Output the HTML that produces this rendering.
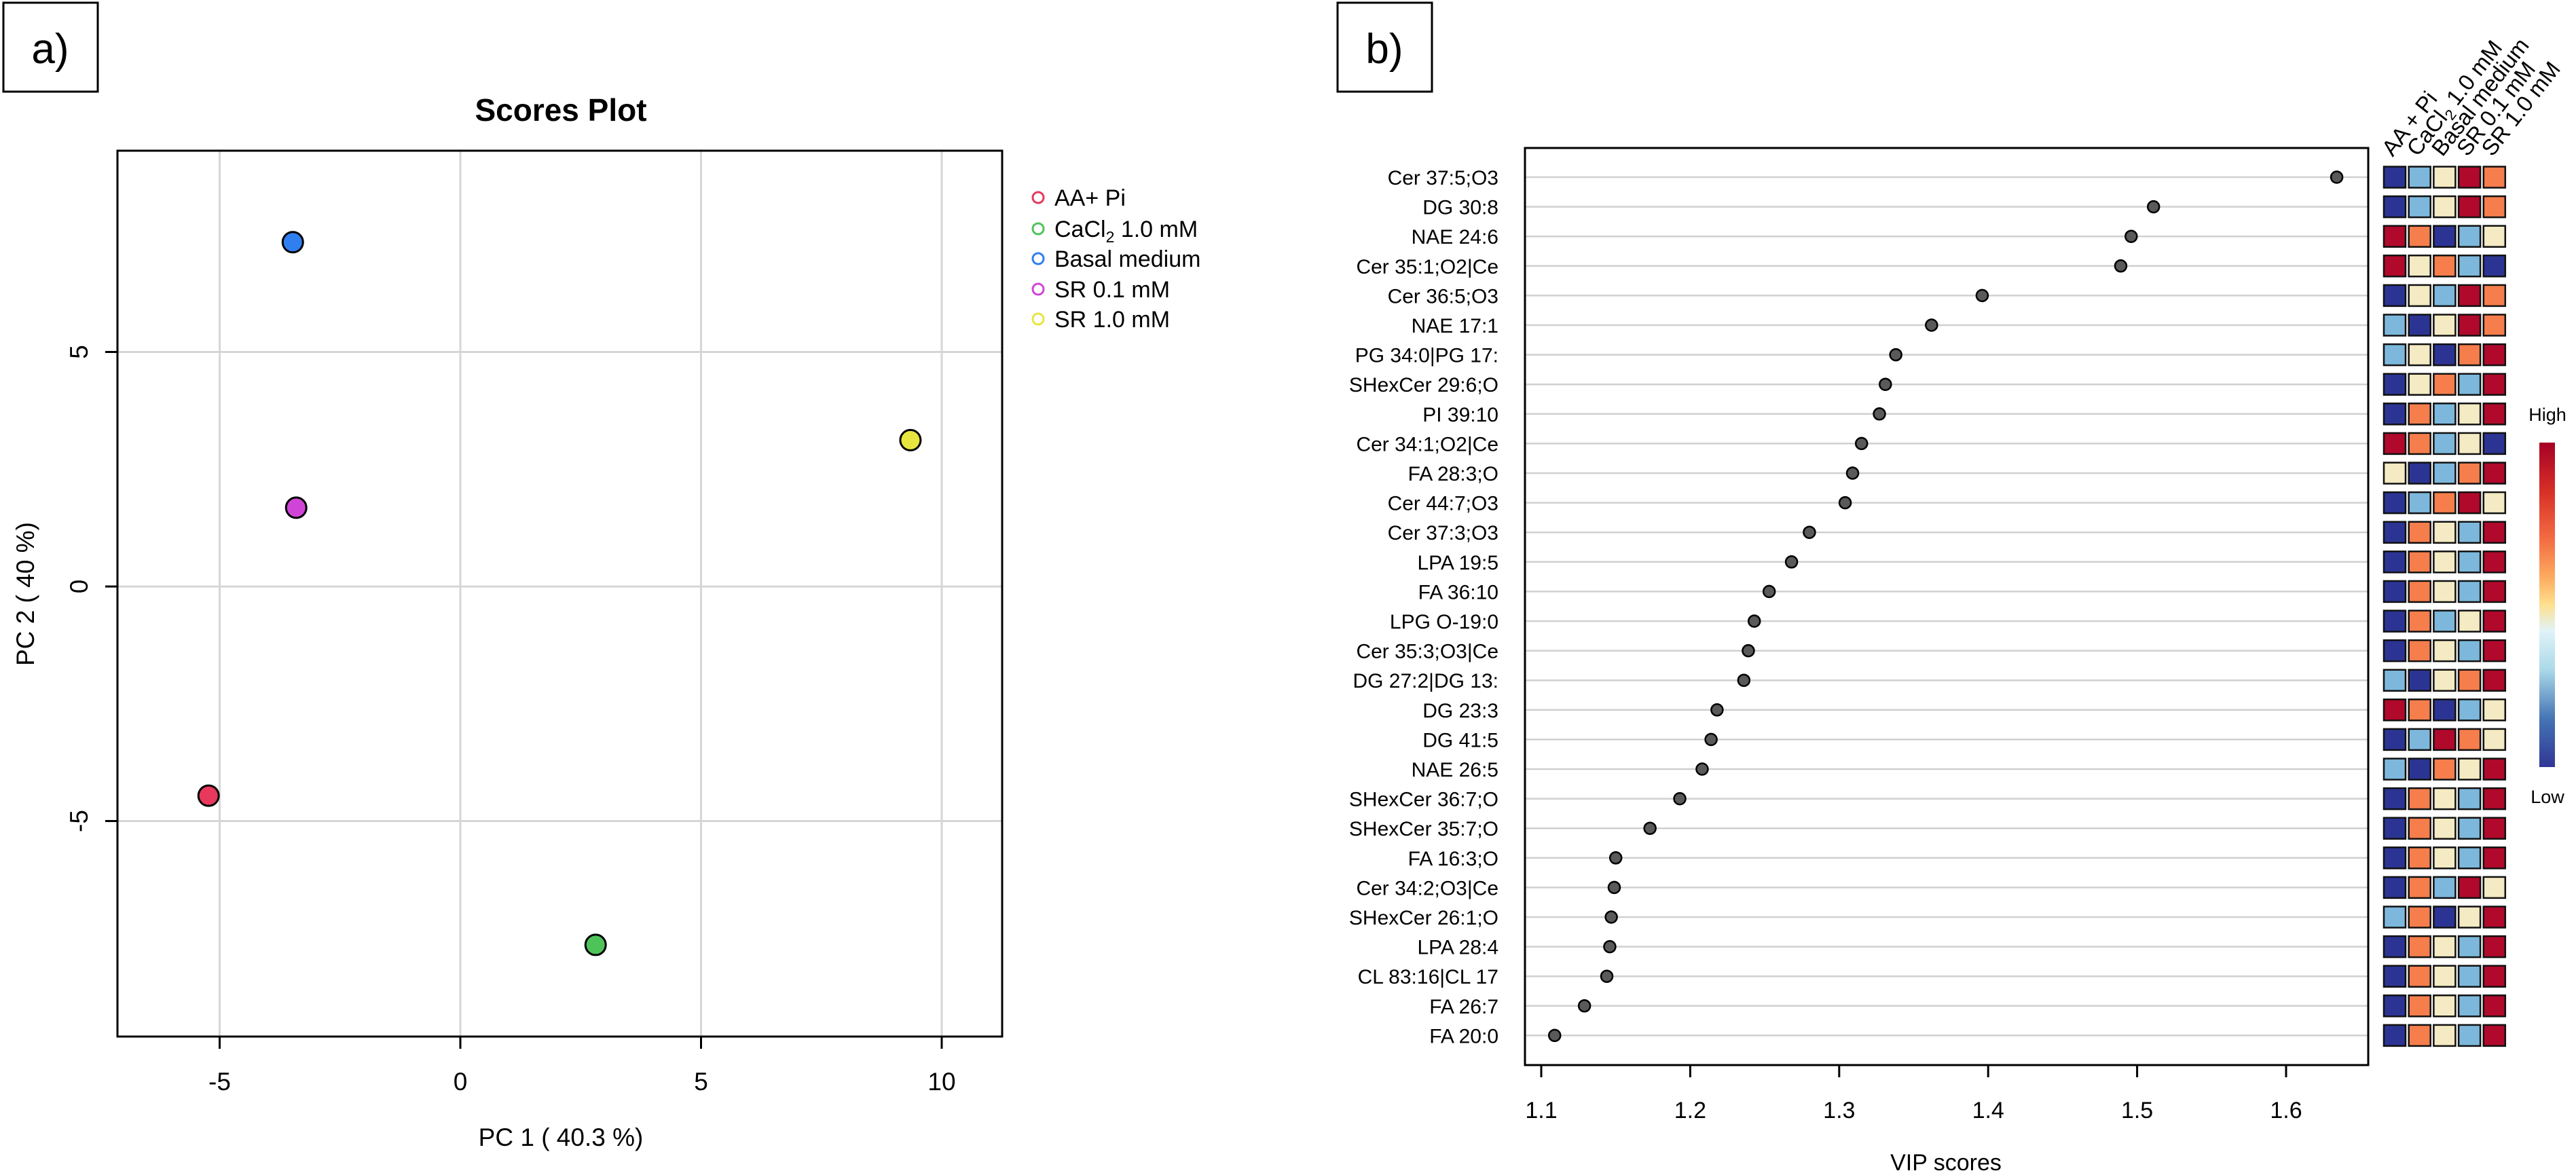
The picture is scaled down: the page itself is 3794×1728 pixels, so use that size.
<!DOCTYPE html>
<html><head><meta charset="utf-8"><style>
html,body{margin:0;padding:0;background:#fff;}
svg{display:block;font-family:"Liberation Sans",sans-serif;}
</style></head><body>
<svg id="fig" width="3794" height="1728" viewBox="0 0 3794 1728" xmlns="http://www.w3.org/2000/svg">
<rect x="0" y="0" width="3794" height="1728" fill="#fff"/>
<g>
<rect x="5" y="4" width="139" height="131" fill="none" stroke="#000" stroke-width="3"/>
<text x="74" y="93" font-size="62" text-anchor="middle">a)</text>
</g>
<g>
<rect x="1970" y="4" width="139" height="131" fill="none" stroke="#000" stroke-width="3"/>
<text x="2039" y="93" font-size="62" text-anchor="middle">b)</text>
</g>
<g id="pca"></g>
<g id="vip"></g>
</svg>
<script>
// ---- Scores plot data ----
const groups = ["AA+ Pi","CaCl2 1.0 mM","Basal medium","SR 0.1 mM","SR 1.0 mM"];
const groupColors = ["#e8385c","#4ec35a","#2f7ff0","#d045d8","#e8e540"];
const pc1 = [-5.23, 2.81, -3.48, -3.41, 9.35];
const pc2 = [-4.46, -7.64, 7.34, 1.68, 3.12];
const xTicks = [-5, 0, 5, 10];
const yTicks = [-5, 0, 5];

// ---- VIP data ----
const features = ["Cer 37:5;O3","DG 30:8","NAE 24:6","Cer 35:1;O2|Ce","Cer 36:5;O3","NAE 17:1","PG 34:0|PG 17:","SHexCer 29:6;O","PI 39:10","Cer 34:1;O2|Ce","FA 28:3;O","Cer 44:7;O3","Cer 37:3;O3","LPA 19:5","FA 36:10","LPG O-19:0","Cer 35:3;O3|Ce","DG 27:2|DG 13:","DG 23:3","DG 41:5","NAE 26:5","SHexCer 36:7;O","SHexCer 35:7;O","FA 16:3;O","Cer 34:2;O3|Ce","SHexCer 26:1;O","LPA 28:4","CL 83:16|CL 17","FA 26:7","FA 20:0"];
const vipScores = [1.634,1.511,1.496,1.489,1.396,1.362,1.338,1.331,1.327,1.315,1.309,1.304,1.280,1.268,1.253,1.243,1.239,1.236,1.218,1.214,1.208,1.193,1.173,1.150,1.149,1.147,1.146,1.144,1.129,1.109];
const vipTicks = [1.1,1.2,1.3,1.4,1.5,1.6];
const heatCols = ["AA + Pi","CaCl2 1.0 mM","Basal medium","SR 0.1 mM","SR 1.0 mM"];
// levels: 0 low(dark blue), 1 light blue, 2 cream, 3 orange, 4 high(dark red)
const heatLevels = [
[0,1,2,4,3],[0,1,2,4,3],[4,3,0,1,2],[4,2,3,1,0],[0,2,1,4,3],
[1,0,2,4,3],[1,2,0,3,4],[0,2,3,1,4],[0,3,1,2,4],[4,3,1,2,0],
[2,0,1,3,4],[0,1,3,4,2],[0,3,2,1,4],[0,3,2,1,4],[0,3,2,1,4],
[0,3,1,2,4],[0,3,2,1,4],[1,0,2,3,4],[4,3,0,1,2],[0,1,4,3,2],
[1,0,3,2,4],[0,3,2,1,4],[0,3,2,1,4],[0,3,2,1,4],[0,3,1,4,2],
[1,3,0,2,4],[0,3,2,1,4],[0,3,2,1,4],[0,3,2,1,4],[0,3,2,1,4]];
const levelColors = ["#2c3493","#7db8dc","#f4eac3","#f57e4c","#b0092b"];

const NS="http://www.w3.org/2000/svg";
function mk(tag, attrs, parent, txt){const e=document.createElementNS(NS,tag);for(const k in attrs)e.setAttribute(k,attrs[k]);if(txt!==undefined)e.textContent=txt;parent.appendChild(e);return e;}

// ===== Scores plot =====
const pca=document.getElementById('pca');
const PX0=173,PX1=1476,PY0=222,PY1=1527;
const xs=v=>678+v*70.9;
const ys=v=>864-v*69.1;
let t=mk('text',{x:826,y:178,'font-size':46,'font-weight':'bold','text-anchor':'middle'},pca,'Scores Plot');


xTicks.forEach(v=>{
  let g=mk('line',{x1:xs(v),x2:xs(v),y1:PY0,y2:PY1,stroke:'#d6d6d6','stroke-width':3},pca);
  
  
  let tk=mk('line',{x1:xs(v),x2:xs(v),y1:PY1,y2:PY1+18,stroke:'#000','stroke-width':3},pca);
  
  
  let l=mk('text',{x:xs(v),y:1606,'font-size':37,'text-anchor':'middle'},pca,String(v));
  
  
});
yTicks.forEach(v=>{
  let g=mk('line',{x1:PX0,x2:PX1,y1:ys(v),y2:ys(v),stroke:'#d6d6d6','stroke-width':3},pca);
  
  
  let tk=mk('line',{x1:PX0-18,x2:PX0,y1:ys(v),y2:ys(v),stroke:'#000','stroke-width':3},pca);
  
  
  let l=mk('text',{x:0,y:0,'font-size':37,'text-anchor':'middle',transform:`translate(129,${ys(v)}) rotate(-90)`},pca,String(v));
  
  
});
let box=mk('rect',{x:PX0,y:PY0,width:PX1-PX0,height:PY1-PY0,fill:'none',stroke:'#000','stroke-width':3},pca);


pc1.forEach((v,i)=>{
  let c=mk('circle',{cx:xs(v),cy:ys(pc2[i]),r:15,fill:groupColors[i],stroke:'#000','stroke-width':3},pca);
  
  
});
t=mk('text',{x:826,y:1688,'font-size':37,'text-anchor':'middle'},pca,'PC 1 ( 40.3 %)');


t=mk('text',{x:0,y:0,'font-size':37,'text-anchor':'middle',transform:'translate(50,875) rotate(-90)'},pca,'PC 2 ( 40 %)');


const legY=[291,337,381,426,470];
groups.forEach((gname,i)=>{
  const lg=mk('g',{},pca);
  
  
  mk('circle',{cx:1529,cy:legY[i],r:8,fill:'none',stroke:groupColors[i],'stroke-width':3},lg);
  const tx=mk('text',{x:1553,y:legY[i]+12,'font-size':34},lg);
  if(gname.indexOf('CaCl2')===0){
    tx.appendChild(document.createTextNode('CaCl'));
    mk('tspan',{'font-size':23,dy:8},tx,'2');
    mk('tspan',{dy:-8},tx,' 1.0 mM');
  } else tx.textContent=gname;
});

// ===== VIP plot =====
const vip=document.getElementById('vip');
const VX0=2246,VX1=3488,VY0=218,VY1=1569;
const vx=v=>2270+(v-1.1)*2194;
const ry=i=>261+i*43.6;
features.forEach((f,i)=>{
  let g=mk('line',{x1:VX0,x2:VX1,y1:ry(i),y2:ry(i),stroke:'#d0d0d0','stroke-width':2.5},vip);
  
  
  let l=mk('text',{x:2207,y:ry(i)+11,'font-size':30,'text-anchor':'end'},vip,f);
  
  
  let c=mk('circle',{cx:vx(vipScores[i]),cy:ry(i),r:8.5,fill:'#5a5a5a',stroke:'#000','stroke-width':2.5},vip);
  
  
  heatLevels[i].forEach((lv,j)=>{
    let r=mk('rect',{x:3511+j*36.7,y:ry(i)-15.5,width:32,height:31,fill:levelColors[lv],stroke:'#111','stroke-width':2.5},vip);
    
    
  });
});
let vbox=mk('rect',{x:VX0,y:VY0,width:VX1-VX0,height:VY1-VY0,fill:'none',stroke:'#000','stroke-width':3},vip);


vipTicks.forEach(v=>{
  let tk=mk('line',{x1:vx(v),x2:vx(v),y1:VY1,y2:VY1+18,stroke:'#000','stroke-width':3},vip);
  
  
  let l=mk('text',{x:vx(v),y:1647,'font-size':34,'text-anchor':'middle'},vip,v.toFixed(1));
  
  
});
t=mk('text',{x:2866,y:1724,'font-size':34,'text-anchor':'middle'},vip,'VIP scores');


heatCols.forEach((h,j)=>{
  const tx=mk('text',{x:0,y:0,'font-size':33,transform:`translate(${3524+j*36.7},232) rotate(-52)`},vip);
  
  
  if(h.indexOf('CaCl2')===0){
    tx.appendChild(document.createTextNode('CaCl'));
    mk('tspan',{'font-size':22,dy:7},tx,'2');
    mk('tspan',{dy:-7},tx,' 1.0 mM');
  } else tx.textContent=h;
});
// color bar
const defs=mk('defs',{},vip);
const grad=mk('linearGradient',{id:'cbar',x1:0,y1:0,x2:0,y2:1},defs);
[["0","#a50026"],["0.15","#d73027"],["0.3","#f46d43"],["0.42","#fdae61"],["0.5","#fee090"],["0.58","#e0f3f8"],["0.7","#abd9e9"],["0.85","#4575b4"],["1","#313695"]].forEach(s=>mk('stop',{offset:s[0],'stop-color':s[1]},grad));
let cb=mk('rect',{x:3740,y:652,width:23,height:478,fill:'url(#cbar)'},vip);


t=mk('text',{x:3752,y:620,'font-size':27,'text-anchor':'middle'},vip,'High');


t=mk('text',{x:3752,y:1183,'font-size':27,'text-anchor':'middle'},vip,'Low');


</script>
</body></html>
